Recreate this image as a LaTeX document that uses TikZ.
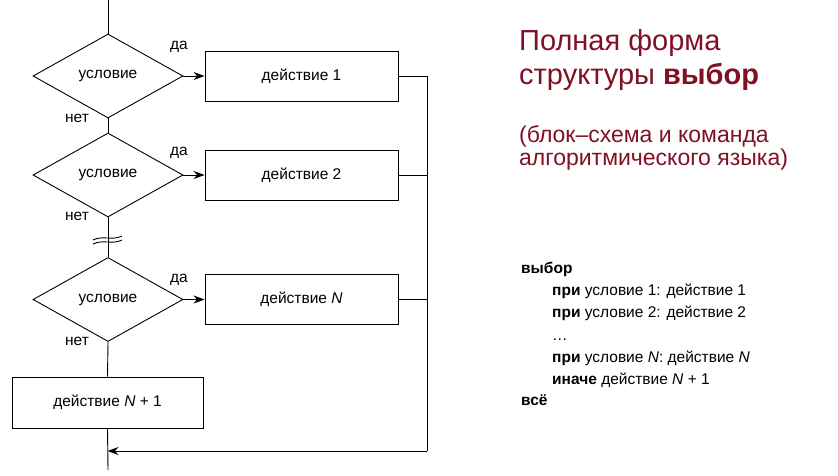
\documentclass[tikz,border=0pt]{standalone}
\usepackage{fontspec}
\setmainfont{Liberation Sans}
\usetikzlibrary{arrows.meta,shapes.geometric}
\definecolor{titlered}{RGB}{128,16,36}
\tikzset{
  flow/.style={line width=0.9pt},
  tip/.style={-{Stealth[length=11pt,width=8pt]}},
  cond/.style={draw, diamond, line width=0.9pt, minimum width=150pt, minimum height=84pt, inner sep=0pt, font=\fontsize{15.5}{18}\selectfont},
  act/.style={draw, rectangle, line width=0.9pt, minimum width=193pt, minimum height=50pt, inner sep=0pt, font=\fontsize{15.5}{18}\selectfont},
  lbl/.style={inner sep=0pt, font=\fontsize{15.5}{18}\selectfont},
  headline/.style={anchor=base west, inner sep=0pt, text=titlered, font=\fontsize{29}{32}\selectfont},
  subline/.style={anchor=base west, inner sep=0pt, text=titlered, font=\fontsize{23}{26}\selectfont},
  codeline/.style={anchor=base west, inner sep=0pt, font=\fontsize{15.5}{18}\selectfont}
}

\begin{document}
\begin{tikzpicture}[x=1pt, y=-1pt]
		%%%%% START %%%%%
		\useasboundingbox (0, 0) rectangle (838, 475);

		% conditions and actions
		\node[cond] (d1) at (108, 76) {условие};
		\node[cond] (d2) at (108, 175) {условие};
		\node[cond] (d3) at (108, 299.5) {условие};

		\node[act] (b1) at (301.5, 76) {действие 1};
		\node[act] (b2) at (301.5, 175) {действие 2};
		\node[act] (b3) at (301.5, 299.5) {действие \textit{N}};
		\node[act, minimum width=191pt, minimum height=51pt] (b4) at (107.5, 402.5) {действие \textit{N} + 1};

		\coordinate (top) at (108, 0);
		\coordinate (bot) at (108, 470);
		\coordinate (r1) at (427, 76);
		\coordinate (r4) at (427, 451);

		% yes / no labels
		\node[lbl] (da1) at (179, 47) {да};
		\node[lbl] (da2) at (179, 153) {да};
		\node[lbl] (da3) at (179, 280) {да};
		\node[lbl] (net1) at (77, 118) {нет};
		\node[lbl] (net2) at (77, 216) {нет};
		\node[lbl] (net3) at (77, 341) {нет};

		% connectors
		\draw[flow] (top) -- (d1.north);
		\draw[flow, tip] (d1.east) -- (b1.west);
		\draw[flow] (d1.south) -- (d2.north);
		\draw[flow, tip] (d2.east) -- (b2.west);
		\draw[flow] (d2.south) -- (d3.north);
		\draw[flow, tip] (d3.east) -- (b3.west);
		\draw[flow] (d3.south) -- (b4.north);
		\draw[flow] (b4.south) -- (bot);

		\draw[flow] (b1.east) -- (r1) -- (r4);
		\draw[flow] (b2.east) -- (b2.east -| r1);
		\draw[flow] (b3.east) -- (b3.east -| r1);
		\draw[flow, tip] (r4) -- (r4 -| b4.south);

		% break mark
		\draw[flow] (93, 240) .. controls (103, 235) and (112, 241) .. (122, 236);
		\draw[flow] (93, 244) .. controls (103, 239) and (112, 245) .. (122, 240);

		% title
		\node[headline] (t1) at (519, 50) {Полная форма};
		\node[headline] (t2) at (519, 84) {структуры \textbf{выбор}};
		\node[subline] (s1) at (519, 142) {(блок–схема и команда};
		\node[subline] (s2) at (519, 165) {алгоритмического языка)};

		% command
		\node[codeline] (c1) at (521, 273) {\textbf{выбор}};
		\node[codeline] (c2) at (552, 295) {\textbf{при} условие 1: действие 1};
		\node[codeline] (c3) at (552, 317) {\textbf{при} условие 2: действие 2};
		\node[codeline] (c4) at (552, 340) {…};
		\node[codeline] (c5) at (552, 362) {\textbf{при} условие \textit{N}: действие \textit{N}};
		\node[codeline] (c6) at (552, 384) {\textbf{иначе} действие \textit{N} + 1};
		\node[codeline] (c7) at (521, 405) {\textbf{всё}};

		%%%%% END %%%%%
	\end{tikzpicture}
\end{document}
